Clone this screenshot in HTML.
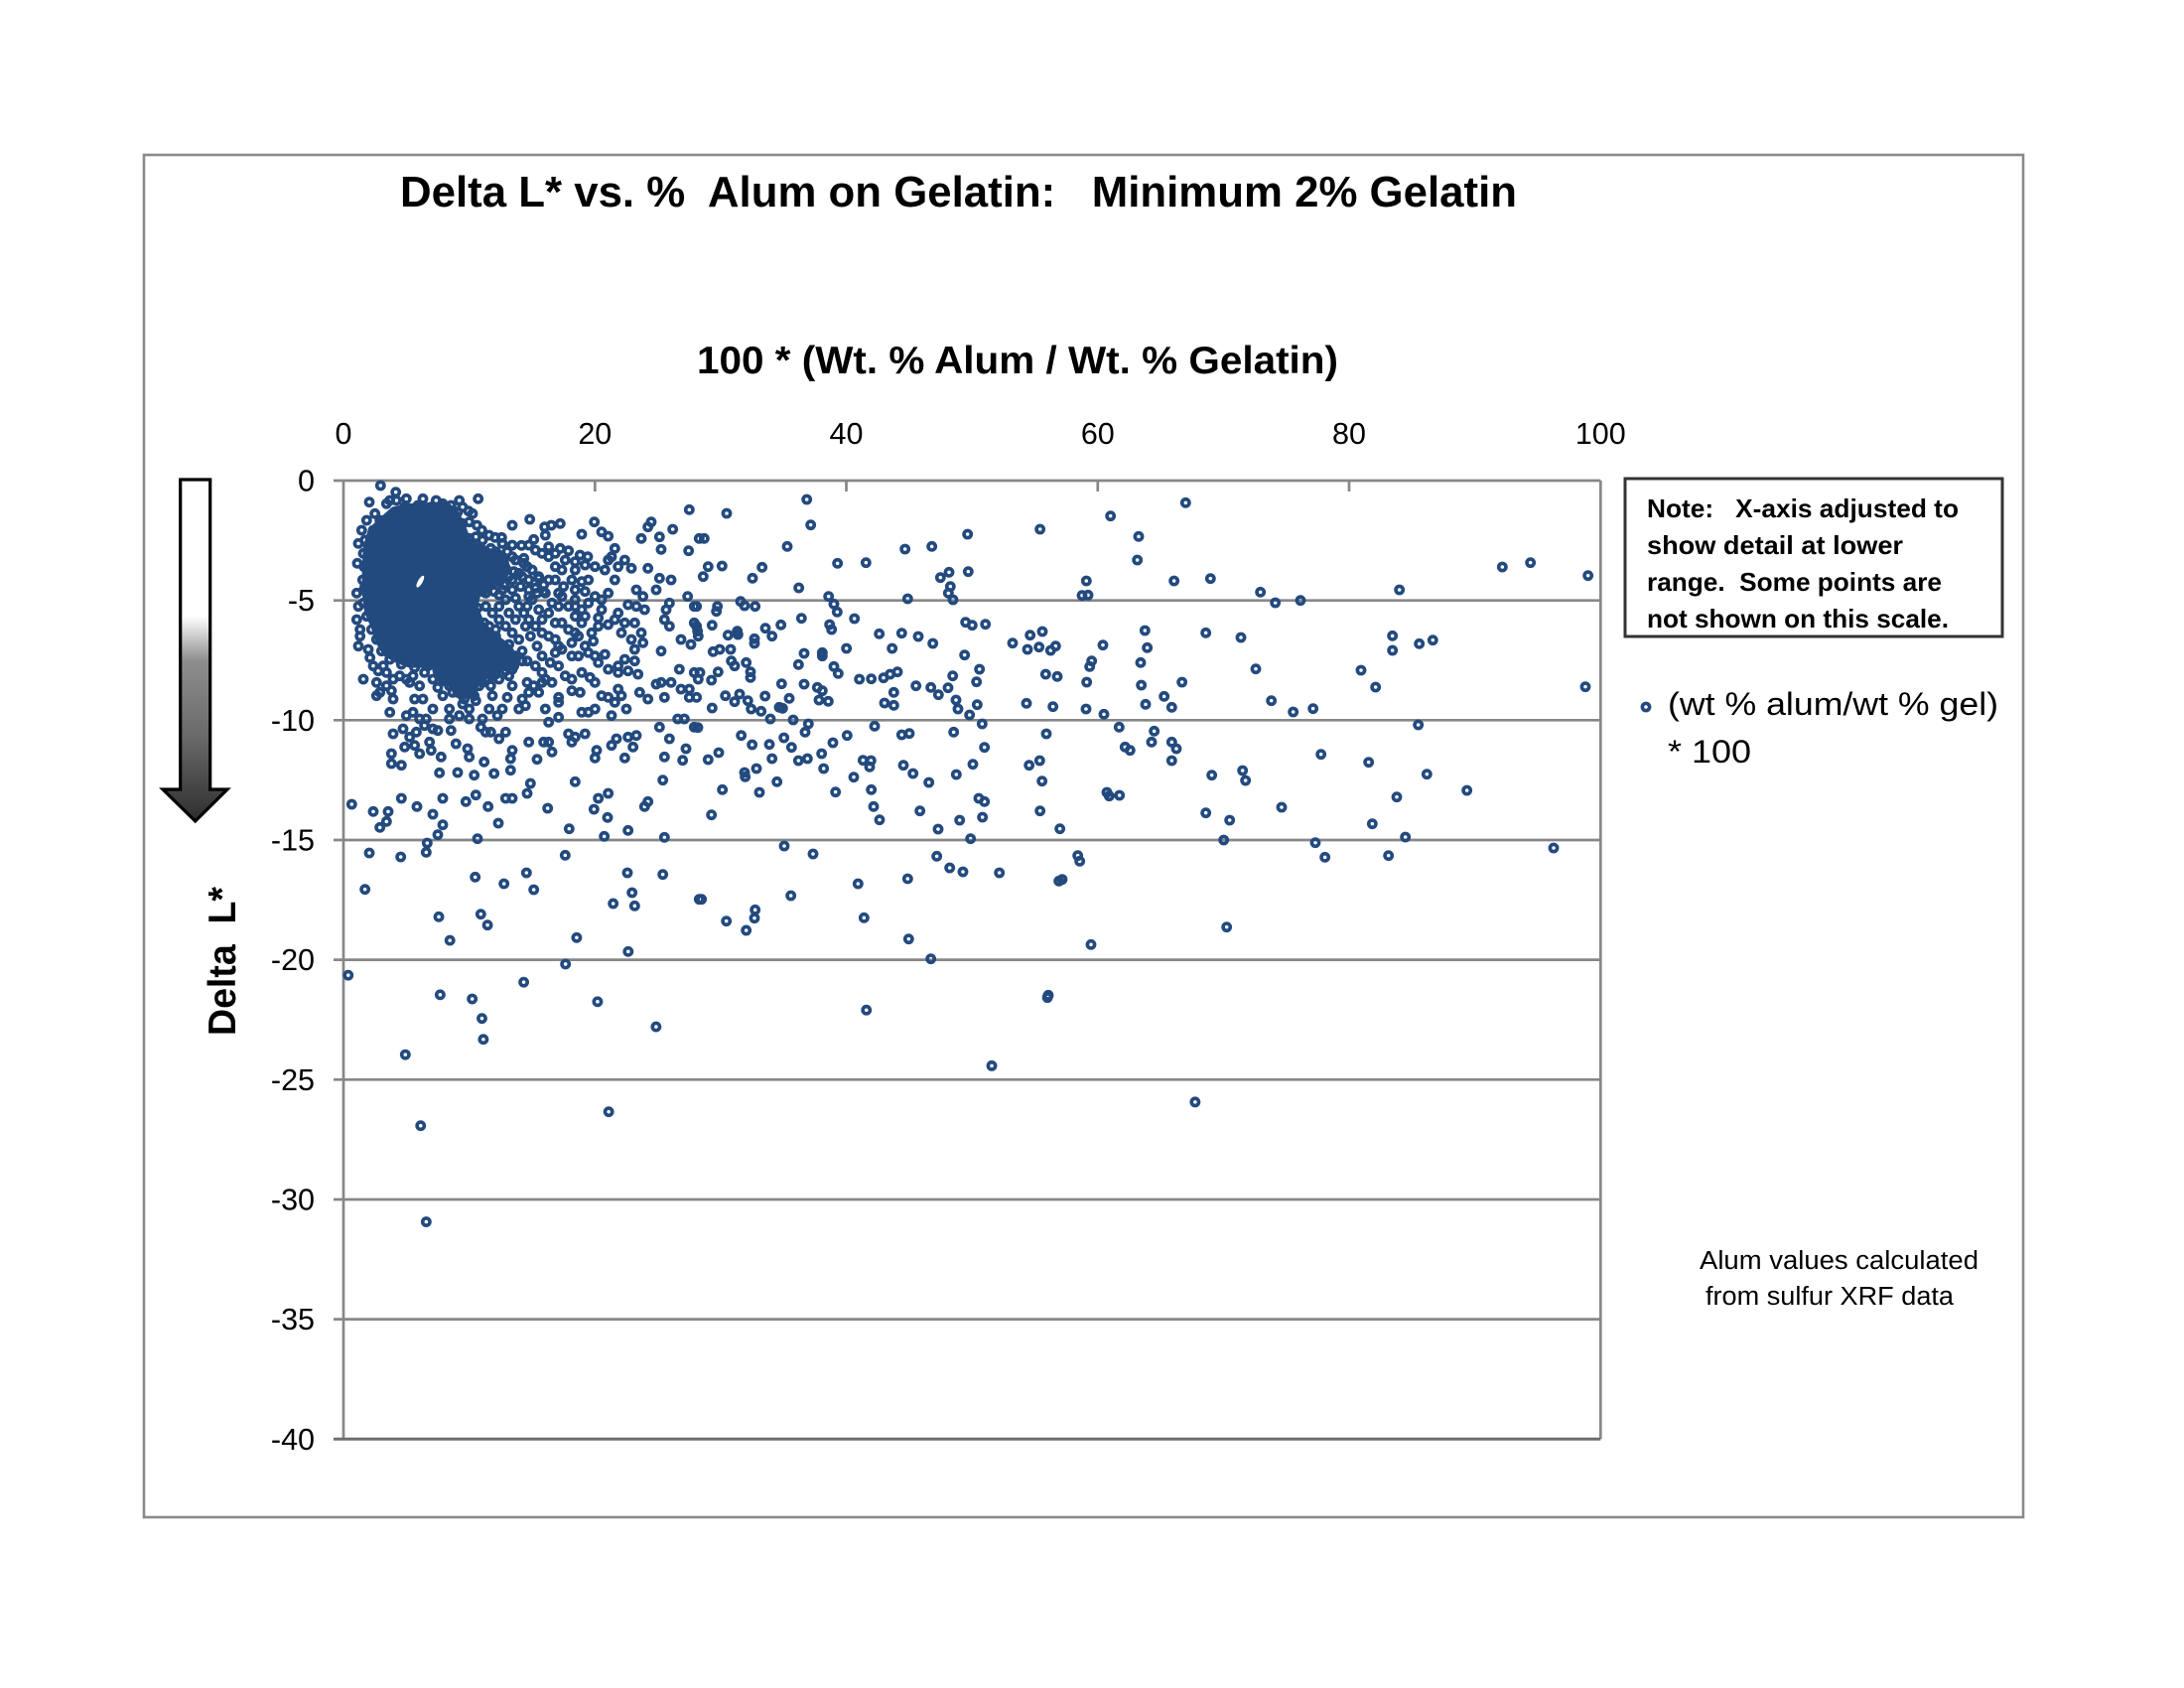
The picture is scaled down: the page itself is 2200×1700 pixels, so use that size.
<!DOCTYPE html>
<html>
<head>
<meta charset="utf-8">
<style>
html,body{margin:0;padding:0;background:#fff;}
svg{display:block;}
.t{font-family:"Liberation Sans",Arial,sans-serif;fill:#000;}
.z circle{fill:none;stroke:#234a7e;stroke-width:11;}
.d circle{fill:none;stroke:#234a7e;stroke-width:2.61;}
</style>
</head>
<body>
<svg width="2200" height="1700" viewBox="0 0 2200 1700" xmlns="http://www.w3.org/2000/svg">
<defs>
<linearGradient id="ag" x1="0" y1="483" x2="0" y2="827" gradientUnits="userSpaceOnUse">
<stop offset="0" stop-color="#ffffff"/>
<stop offset="0.40" stop-color="#ffffff"/>
<stop offset="0.53" stop-color="#8e8e8e"/>
<stop offset="0.75" stop-color="#6a6a6a"/>
<stop offset="1" stop-color="#2e2e2e"/>
</linearGradient>
</defs>
<rect x="0" y="0" width="2200" height="1700" fill="#fff"/>
<rect x="145" y="156" width="1893" height="1372" fill="none" stroke="#8a8a8a" stroke-width="2.6"/>

<text class="t" x="403" y="208" font-size="44" font-weight="bold" textLength="1125" lengthAdjust="spacingAndGlyphs" xml:space="preserve">Delta L* vs. %  Alum on Gelatin:   Minimum 2% Gelatin</text>
<text class="t" x="702" y="376" font-size="39" font-weight="bold" textLength="646" lengthAdjust="spacingAndGlyphs">100 * (Wt. % Alum / Wt. % Gelatin)</text>

<g class="t" font-size="30.5" text-anchor="middle">
<text x="346" y="447">0</text>
<text x="599.3" y="447">20</text>
<text x="852.5" y="447">40</text>
<text x="1105.8" y="447">60</text>
<text x="1359" y="447">80</text>
<text x="1612.3" y="447">100</text>
</g>
<g class="t" font-size="30.5" text-anchor="end">
<text x="317" y="494.5">0</text>
<text x="317" y="615.2">-5</text>
<text x="317" y="735.8">-10</text>
<text x="317" y="856.5">-15</text>
<text x="317" y="977.1">-20</text>
<text x="317" y="1097.8">-25</text>
<text x="317" y="1218.5">-30</text>
<text x="317" y="1339.1">-35</text>
<text x="317" y="1459.8">-40</text>
</g>

<g stroke="#878787" stroke-width="2.7" fill="none">
<line x1="336" y1="484" x2="1612.3" y2="484"/>
<line x1="336" y1="604.7" x2="1612.3" y2="604.7"/>
<line x1="336" y1="725.3" x2="1612.3" y2="725.3"/>
<line x1="336" y1="846" x2="1612.3" y2="846"/>
<line x1="336" y1="966.6" x2="1612.3" y2="966.6"/>
<line x1="336" y1="1087.3" x2="1612.3" y2="1087.3"/>
<line x1="336" y1="1208" x2="1612.3" y2="1208"/>
<line x1="336" y1="1328.6" x2="1612.3" y2="1328.6"/>
<line x1="346" y1="484" x2="346" y2="1449.3"/>
<line x1="1612.3" y1="484" x2="1612.3" y2="1449.3"/>
<line x1="599.3" y1="484" x2="599.3" y2="495"/>
<line x1="852.5" y1="484" x2="852.5" y2="495"/>
<line x1="1105.8" y1="484" x2="1105.8" y2="495"/>
<line x1="1359" y1="484" x2="1359" y2="495"/>
</g>
<line x1="336" y1="1449.3" x2="1612.3" y2="1449.3" stroke="#6e6e6e" stroke-width="3"/>

<path d="M181.7,483 H211.7 V795 H229 L196.7,827 L164,795 H181.7 Z" fill="url(#ag)" stroke="#000" stroke-width="3.2" stroke-linejoin="miter"/>

<text class="t" transform="translate(237 968) rotate(-90)" x="0" y="0" font-size="39" font-weight="bold" text-anchor="middle" textLength="150" lengthAdjust="spacingAndGlyphs" xml:space="preserve">Delta  L*</text>

<rect x="1637" y="482" width="380" height="159" fill="#fff" stroke="#333" stroke-width="3"/>
<g class="t" font-size="26" font-weight="bold">
<text x="1659" y="521" textLength="314" lengthAdjust="spacingAndGlyphs" xml:space="preserve">Note:   X-axis adjusted to</text>
<text x="1659" y="558" textLength="258" lengthAdjust="spacingAndGlyphs">show detail at lower</text>
<text x="1659" y="595" textLength="297" lengthAdjust="spacingAndGlyphs" xml:space="preserve">range.  Some points are</text>
<text x="1659" y="632" textLength="304" lengthAdjust="spacingAndGlyphs">not shown on this scale.</text>
</g>

<circle cx="1658" cy="712" r="3.6" fill="none" stroke="#234a7e" stroke-width="3.67"/>
<text class="t" x="1680" y="720" font-size="32" textLength="333" lengthAdjust="spacingAndGlyphs">(wt % alum/wt % gel)</text>
<text class="t" x="1680" y="768" font-size="32" textLength="84" lengthAdjust="spacingAndGlyphs">* 100</text>

<text class="t" x="1712" y="1278" font-size="25.5" textLength="281" lengthAdjust="spacingAndGlyphs">Alum values calculated</text>
<text class="t" x="1718" y="1314" font-size="25.5" textLength="250" lengthAdjust="spacingAndGlyphs">from sulfur XRF data</text>

<g class="z" transform="translate(346 484) scale(0.33333)">
<path d="M110,120 L150,85 L200,75 L260,72 L310,70 L340,90 L360,130 L380,180 L420,205 L460,215 L490,230 L500,270 L480,310 L440,320 L410,340 L400,380 L420,430 L460,470 L500,500 L520,530 L500,565 L450,580 L410,610 L385,645 L355,660 L330,630 L300,595 L270,565 L240,560 L200,560 L160,545 L125,525 L105,490 L88,440 L70,400 L62,340 L62,270 L65,200 L80,150 Z" fill="#234a7e" stroke="#234a7e" stroke-width="12" stroke-linejoin="round"/>
<ellipse cx="232" cy="305" rx="7" ry="20" transform="rotate(30 232 305)" fill="#fff"/>
<circle cx="112" cy="15" r="10.8"/><circle cx="158" cy="35" r="10.8"/><circle cx="78" cy="65" r="10.8"/><circle cx="407" cy="55" r="10.8"/><circle cx="130" cy="70" r="10.8"/><circle cx="160" cy="60" r="10.8"/><circle cx="185" cy="80" r="10.8"/><circle cx="225" cy="75" r="10.8"/><circle cx="265" cy="80" r="10.8"/><circle cx="300" cy="70" r="10.8"/><circle cx="325" cy="75" r="10.8"/><circle cx="378" cy="92" r="10.8"/><circle cx="380" cy="125" r="10.8"/><circle cx="403" cy="135" r="10.8"/><circle cx="418" cy="150" r="10.8"/><circle cx="458" cy="172" r="10.8"/><circle cx="478" cy="172" r="10.8"/><circle cx="510" cy="135" r="10.8"/><circle cx="563" cy="117" r="10.8"/><circle cx="575" cy="178" r="10.8"/><circle cx="538" cy="196" r="10.8"/><circle cx="608" cy="140" r="10.8"/><circle cx="628" cy="135" r="10.8"/><circle cx="655" cy="130" r="10.8"/><circle cx="610" cy="165" r="10.8"/><circle cx="720" cy="162" r="10.8"/><circle cx="758" cy="125" r="10.8"/><circle cx="780" cy="155" r="10.8"/><circle cx="800" cy="168" r="10.8"/><circle cx="655" cy="205" r="10.8"/><circle cx="680" cy="212" r="10.8"/><circle cx="715" cy="225" r="10.8"/><circle cx="738" cy="230" r="10.8"/><circle cx="820" cy="205" r="10.8"/><circle cx="810" cy="230" r="10.8"/><circle cx="1045" cy="88" r="10.8"/><circle cx="930" cy="125" r="10.8"/><circle cx="920" cy="140" r="10.8"/><circle cx="900" cy="175" r="10.8"/><circle cx="995" cy="147" r="10.8"/><circle cx="955" cy="170" r="10.8"/><circle cx="960" cy="208" r="10.8"/><circle cx="1043" cy="212" r="10.8"/><circle cx="1075" cy="175" r="10.8"/>
<circle cx="600" cy="220" r="10.8"/><circle cx="620" cy="230" r="10.8"/><circle cx="640" cy="260" r="10.8"/><circle cx="660" cy="270" r="10.8"/><circle cx="700" cy="270" r="10.8"/><circle cx="690" cy="300" r="10.8"/><circle cx="665" cy="320" r="10.8"/><circle cx="700" cy="330" r="10.8"/><circle cx="730" cy="335" r="10.8"/><circle cx="760" cy="350" r="10.8"/><circle cx="780" cy="360" r="10.8"/><circle cx="800" cy="340" r="10.8"/><circle cx="820" cy="300" r="10.8"/><circle cx="830" cy="260" r="10.8"/><circle cx="790" cy="270" r="10.8"/><circle cx="800" cy="240" r="10.8"/><circle cx="850" cy="240" r="10.8"/><circle cx="870" cy="265" r="10.8"/><circle cx="920" cy="265" r="10.8"/><circle cx="955" cy="295" r="10.8"/><circle cx="990" cy="300" r="10.8"/><circle cx="945" cy="330" r="10.8"/><circle cx="885" cy="330" r="10.8"/><circle cx="905" cy="350" r="10.8"/><circle cx="1040" cy="350" r="10.8"/><circle cx="1060" cy="380" r="10.8"/><circle cx="580" cy="325" r="10.8"/><circle cx="560" cy="350" r="10.8"/><circle cx="610" cy="340" r="10.8"/><circle cx="620" cy="300" r="10.8"/><circle cx="545" cy="235" r="10.8"/><circle cx="530" cy="280" r="10.8"/><circle cx="510" cy="300" r="10.8"/><circle cx="480" cy="330" r="10.8"/>
<circle cx="555" cy="380" r="10.8"/><circle cx="560" cy="420" r="10.8"/><circle cx="580" cy="440" r="10.8"/><circle cx="600" cy="420" r="10.8"/><circle cx="620" cy="400" r="10.8"/><circle cx="640" cy="430" r="10.8"/><circle cx="660" cy="430" r="10.8"/><circle cx="700" cy="410" r="10.8"/><circle cx="720" cy="430" r="10.8"/><circle cx="700" cy="460" r="10.8"/><circle cx="710" cy="470" r="10.8"/><circle cx="640" cy="480" r="10.8"/><circle cx="650" cy="500" r="10.8"/><circle cx="660" cy="510" r="10.8"/><circle cx="755" cy="485" r="10.8"/><circle cx="770" cy="440" r="10.8"/><circle cx="770" cy="415" r="10.8"/><circle cx="800" cy="435" r="10.8"/><circle cx="830" cy="400" r="10.8"/><circle cx="860" cy="375" r="10.8"/><circle cx="885" cy="380" r="10.8"/><circle cx="910" cy="390" r="10.8"/><circle cx="850" cy="430" r="10.8"/><circle cx="880" cy="430" r="10.8"/><circle cx="900" cy="460" r="10.8"/><circle cx="905" cy="490" r="10.8"/><circle cx="880" cy="510" r="10.8"/><circle cx="850" cy="540" r="10.8"/><circle cx="830" cy="560" r="10.8"/><circle cx="960" cy="515" r="10.8"/><circle cx="975" cy="390" r="10.8"/><circle cx="985" cy="370" r="10.8"/><circle cx="970" cy="420" r="10.8"/><circle cx="985" cy="440" r="10.8"/><circle cx="1060" cy="430" r="10.8"/><circle cx="1070" cy="455" r="10.8"/><circle cx="1020" cy="480" r="10.8"/><circle cx="1050" cy="495" r="10.8"/>
<circle cx="650" cy="560" r="10.8"/><circle cx="690" cy="530" r="10.8"/><circle cx="710" cy="530" r="10.8"/><circle cx="770" cy="550" r="10.8"/><circle cx="790" cy="525" r="10.8"/><circle cx="800" cy="570" r="10.8"/><circle cx="830" cy="580" r="10.8"/><circle cx="860" cy="575" r="10.8"/><circle cx="890" cy="585" r="10.8"/><circle cx="745" cy="595" r="10.8"/><circle cx="690" cy="635" r="10.8"/><circle cx="715" cy="640" r="10.8"/><circle cx="610" cy="600" r="10.8"/><circle cx="590" cy="640" r="10.8"/><circle cx="650" cy="655" r="10.8"/><circle cx="610" cy="690" r="10.8"/><circle cx="650" cy="670" r="10.8"/><circle cx="650" cy="715" r="10.8"/><circle cx="620" cy="730" r="10.8"/><circle cx="720" cy="700" r="10.8"/><circle cx="740" cy="700" r="10.8"/><circle cx="760" cy="690" r="10.8"/><circle cx="780" cy="650" r="10.8"/><circle cx="800" cy="655" r="10.8"/><circle cx="820" cy="670" r="10.8"/><circle cx="830" cy="630" r="10.8"/><circle cx="840" cy="650" r="10.8"/><circle cx="855" cy="690" r="10.8"/><circle cx="810" cy="710" r="10.8"/><circle cx="895" cy="640" r="10.8"/><circle cx="920" cy="660" r="10.8"/><circle cx="945" cy="615" r="10.8"/><circle cx="960" cy="610" r="10.8"/><circle cx="990" cy="610" r="10.8"/><circle cx="970" cy="655" r="10.8"/><circle cx="1015" cy="570" r="10.8"/><circle cx="1060" cy="580" r="10.8"/><circle cx="1020" cy="630" r="10.8"/><circle cx="1045" cy="630" r="10.8"/><circle cx="1045" cy="655" r="10.8"/><circle cx="1010" cy="720" r="10.8"/><circle cx="1030" cy="720" r="10.8"/><circle cx="1060" cy="745" r="10.8"/><circle cx="955" cy="745" r="10.8"/><circle cx="985" cy="780" r="10.8"/><circle cx="1035" cy="810" r="10.8"/><circle cx="1025" cy="845" r="10.8"/><circle cx="970" cy="835" r="10.8"/><circle cx="965" cy="905" r="10.8"/>
<circle cx="50" cy="450" r="10.8"/><circle cx="45" cy="500" r="10.8"/><circle cx="80" cy="535" r="10.8"/><circle cx="60" cy="600" r="10.8"/><circle cx="105" cy="575" r="10.8"/><circle cx="100" cy="610" r="10.8"/><circle cx="110" cy="640" r="10.8"/><circle cx="130" cy="620" r="10.8"/><circle cx="145" cy="635" r="10.8"/><circle cx="150" cy="660" r="10.8"/><circle cx="140" cy="700" r="10.8"/><circle cx="100" cy="650" r="10.8"/><circle cx="190" cy="600" r="10.8"/><circle cx="200" cy="610" r="10.8"/><circle cx="215" cy="660" r="10.8"/><circle cx="245" cy="580" r="10.8"/><circle cx="270" cy="600" r="10.8"/><circle cx="300" cy="590" r="10.8"/><circle cx="320" cy="600" r="10.8"/><circle cx="285" cy="625" r="10.8"/><circle cx="300" cy="650" r="10.8"/><circle cx="320" cy="690" r="10.8"/><circle cx="350" cy="710" r="10.8"/><circle cx="380" cy="690" r="10.8"/><circle cx="400" cy="665" r="10.8"/><circle cx="440" cy="580" r="10.8"/><circle cx="445" cy="620" r="10.8"/><circle cx="450" cy="650" r="10.8"/><circle cx="465" cy="710" r="10.8"/><circle cx="500" cy="590" r="10.8"/><circle cx="510" cy="620" r="10.8"/><circle cx="495" cy="655" r="10.8"/><circle cx="540" cy="660" r="10.8"/><circle cx="550" cy="680" r="10.8"/><circle cx="555" cy="610" r="10.8"/><circle cx="575" cy="620" r="10.8"/><circle cx="600" cy="610" r="10.8"/><circle cx="490" cy="560" r="10.8"/><circle cx="520" cy="545" r="10.8"/>
<circle cx="190" cy="710" r="10.8"/><circle cx="210" cy="700" r="10.8"/><circle cx="230" cy="720" r="10.8"/><circle cx="250" cy="720" r="10.8"/><circle cx="150" cy="765" r="10.8"/><circle cx="180" cy="750" r="10.8"/><circle cx="200" cy="775" r="10.8"/><circle cx="220" cy="760" r="10.8"/><circle cx="245" cy="740" r="10.8"/><circle cx="270" cy="750" r="10.8"/><circle cx="285" cy="755" r="10.8"/><circle cx="325" cy="755" r="10.8"/><circle cx="340" cy="795" r="10.8"/><circle cx="375" cy="810" r="10.8"/><circle cx="380" cy="835" r="10.8"/><circle cx="415" cy="745" r="10.8"/><circle cx="430" cy="760" r="10.8"/><circle cx="445" cy="760" r="10.8"/><circle cx="470" cy="780" r="10.8"/><circle cx="490" cy="760" r="10.8"/><circle cx="510" cy="815" r="10.8"/><circle cx="505" cy="840" r="10.8"/><circle cx="505" cy="875" r="10.8"/><circle cx="560" cy="790" r="10.8"/><circle cx="605" cy="790" r="10.8"/><circle cx="620" cy="790" r="10.8"/><circle cx="630" cy="820" r="10.8"/><circle cx="585" cy="842" r="10.8"/><circle cx="185" cy="805" r="10.8"/><circle cx="215" cy="800" r="10.8"/><circle cx="230" cy="825" r="10.8"/><circle cx="260" cy="790" r="10.8"/><circle cx="265" cy="815" r="10.8"/><circle cx="145" cy="825" r="10.8"/><circle cx="145" cy="855" r="10.8"/><circle cx="175" cy="860" r="10.8"/><circle cx="295" cy="835" r="10.8"/><circle cx="425" cy="850" r="10.8"/><circle cx="290" cy="883" r="10.8"/><circle cx="345" cy="882" r="10.8"/><circle cx="395" cy="890" r="10.8"/><circle cx="455" cy="885" r="10.8"/><circle cx="700" cy="775" r="10.8"/><circle cx="680" cy="765" r="10.8"/><circle cx="690" cy="790" r="10.8"/><circle cx="730" cy="765" r="10.8"/><circle cx="700" cy="910" r="10.8"/><circle cx="765" cy="815" r="10.8"/><circle cx="760" cy="838" r="10.8"/><circle cx="850" cy="838" r="10.8"/><circle cx="825" cy="780" r="10.8"/><circle cx="860" cy="775" r="10.8"/><circle cx="885" cy="770" r="10.8"/><circle cx="875" cy="805" r="10.8"/><circle cx="810" cy="800" r="10.8"/>
<circle cx="565" cy="915" r="10.8"/><circle cx="555" cy="945" r="10.8"/><circle cx="490" cy="960" r="10.8"/><circle cx="510" cy="960" r="10.8"/><circle cx="400" cy="950" r="10.8"/><circle cx="370" cy="970" r="10.8"/><circle cx="300" cy="960" r="10.8"/><circle cx="175" cy="960" r="10.8"/><circle cx="222" cy="985" r="10.8"/><circle cx="270" cy="1008" r="10.8"/><circle cx="300" cy="1040" r="10.8"/><circle cx="285" cy="1070" r="10.8"/><circle cx="253" cy="1095" r="10.8"/><circle cx="250" cy="1123" r="10.8"/><circle cx="135" cy="1000" r="10.8"/><circle cx="130" cy="1030" r="10.8"/><circle cx="110" cy="1048" r="10.8"/><circle cx="90" cy="1000" r="10.8"/><circle cx="25" cy="978" r="10.8"/><circle cx="437" cy="985" r="10.8"/><circle cx="468" cy="1035" r="10.8"/><circle cx="617" cy="990" r="10.8"/><circle cx="682" cy="1052" r="10.8"/><circle cx="800" cy="945" r="10.8"/><circle cx="770" cy="960" r="10.8"/><circle cx="757" cy="993" r="10.8"/><circle cx="798" cy="1018" r="10.8"/><circle cx="788" cy="1075" r="10.8"/><circle cx="860" cy="1057" r="10.8"/><circle cx="910" cy="985" r="10.8"/><circle cx="920" cy="970" r="10.8"/><circle cx="970" cy="1078" r="10.8"/><circle cx="405" cy="1082" r="10.8"/><circle cx="78" cy="1125" r="10.8"/><circle cx="173" cy="1137" r="10.8"/><circle cx="65" cy="1235" r="10.8"/><circle cx="398" cy="1198" r="10.8"/><circle cx="485" cy="1218" r="10.8"/><circle cx="553" cy="1185" r="10.8"/><circle cx="575" cy="1236" r="10.8"/><circle cx="670" cy="1132" r="10.8"/><circle cx="858" cy="1185" r="10.8"/><circle cx="965" cy="1190" r="10.8"/><circle cx="872" cy="1245" r="10.8"/><circle cx="880" cy="1285" r="10.8"/><circle cx="815" cy="1278" r="10.8"/><circle cx="1075" cy="1265" r="10.8"/><circle cx="288" cy="1318" r="10.8"/><circle cx="415" cy="1310" r="10.8"/>
<circle cx="110" cy="120" r="10.8"/><circle cx="90" cy="150" r="10.8"/><circle cx="65" cy="180" r="10.8"/><circle cx="60" cy="220" r="10.8"/><circle cx="62" cy="260" r="10.8"/><circle cx="58" cy="300" r="10.8"/><circle cx="62" cy="330" r="10.8"/><circle cx="60" cy="370" r="10.8"/><circle cx="70" cy="410" r="10.8"/><circle cx="85" cy="450" r="10.8"/><circle cx="100" cy="480" r="10.8"/><circle cx="115" cy="515" r="10.8"/><circle cx="140" cy="540" r="10.8"/><circle cx="175" cy="555" r="10.8"/><circle cx="215" cy="565" r="10.8"/><circle cx="255" cy="560" r="10.8"/><circle cx="285" cy="575" r="10.8"/><circle cx="305" cy="605" r="10.8"/><circle cx="330" cy="640" r="10.8"/><circle cx="360" cy="675" r="10.8"/><circle cx="395" cy="650" r="10.8"/><circle cx="420" cy="610" r="10.8"/><circle cx="460" cy="585" r="10.8"/><circle cx="510" cy="570" r="10.8"/><circle cx="555" cy="545" r="10.8"/><circle cx="540" cy="515" r="10.8"/><circle cx="500" cy="495" r="10.8"/><circle cx="460" cy="470" r="10.8"/><circle cx="425" cy="430" r="10.8"/><circle cx="405" cy="385" r="10.8"/><circle cx="420" cy="335" r="10.8"/><circle cx="470" cy="345" r="10.8"/><circle cx="520" cy="355" r="10.8"/><circle cx="570" cy="360" r="10.8"/><circle cx="605" cy="335" r="10.8"/><circle cx="590" cy="295" r="10.8"/><circle cx="555" cy="260" r="10.8"/><circle cx="510" cy="230" r="10.8"/><circle cx="460" cy="215" r="10.8"/><circle cx="415" cy="205" r="10.8"/><circle cx="380" cy="175" r="10.8"/><circle cx="360" cy="130" r="10.8"/><circle cx="345" cy="95" r="10.8"/><circle cx="75" cy="255" r="10.8"/><circle cx="55" cy="150" r="10.8"/><circle cx="65" cy="320" r="10.8"/>
<circle cx="395" cy="200" r="10.8"/><circle cx="420" cy="215" r="10.8"/><circle cx="445" cy="205" r="10.8"/><circle cx="470" cy="225" r="10.8"/><circle cx="495" cy="215" r="10.8"/><circle cx="520" cy="240" r="10.8"/><circle cx="545" cy="250" r="10.8"/><circle cx="570" cy="270" r="10.8"/><circle cx="590" cy="290" r="10.8"/><circle cx="605" cy="315" r="10.8"/><circle cx="585" cy="340" r="10.8"/><circle cx="560" cy="330" r="10.8"/><circle cx="535" cy="320" r="10.8"/><circle cx="510" cy="330" r="10.8"/><circle cx="485" cy="315" r="10.8"/><circle cx="460" cy="305" r="10.8"/><circle cx="440" cy="290" r="10.8"/><circle cx="415" cy="300" r="10.8"/><circle cx="395" cy="280" r="10.8"/><circle cx="390" cy="250" r="10.8"/><circle cx="415" cy="245" r="10.8"/><circle cx="440" cy="255" r="10.8"/><circle cx="465" cy="260" r="10.8"/><circle cx="490" cy="265" r="10.8"/><circle cx="515" cy="275" r="10.8"/><circle cx="540" cy="290" r="10.8"/><circle cx="560" cy="300" r="10.8"/><circle cx="500" cy="290" r="10.8"/><circle cx="470" cy="280" r="10.8"/><circle cx="425" cy="270" r="10.8"/><circle cx="400" cy="320" r="10.8"/><circle cx="430" cy="340" r="10.8"/><circle cx="455" cy="335" r="10.8"/><circle cx="390" cy="350" r="10.8"/>
<circle cx="380" cy="450" r="10.8"/><circle cx="400" cy="470" r="10.8"/><circle cx="420" cy="490" r="10.8"/><circle cx="445" cy="500" r="10.8"/><circle cx="470" cy="510" r="10.8"/><circle cx="495" cy="520" r="10.8"/><circle cx="520" cy="530" r="10.8"/><circle cx="540" cy="545" r="10.8"/><circle cx="515" cy="560" r="10.8"/><circle cx="490" cy="575" r="10.8"/><circle cx="465" cy="560" r="10.8"/><circle cx="440" cy="545" r="10.8"/><circle cx="415" cy="530" r="10.8"/><circle cx="395" cy="510" r="10.8"/><circle cx="375" cy="495" r="10.8"/><circle cx="350" cy="520" r="10.8"/><circle cx="330" cy="545" r="10.8"/><circle cx="310" cy="570" r="10.8"/><circle cx="300" cy="600" r="10.8"/><circle cx="320" cy="620" r="10.8"/><circle cx="345" cy="640" r="10.8"/><circle cx="365" cy="660" r="10.8"/><circle cx="390" cy="640" r="10.8"/><circle cx="410" cy="620" r="10.8"/><circle cx="430" cy="600" r="10.8"/><circle cx="450" cy="590" r="10.8"/><circle cx="470" cy="600" r="10.8"/><circle cx="395" cy="600" r="10.8"/><circle cx="370" cy="610" r="10.8"/><circle cx="350" cy="595" r="10.8"/><circle cx="340" cy="575" r="10.8"/><circle cx="365" cy="565" r="10.8"/><circle cx="385" cy="560" r="10.8"/><circle cx="410" cy="570" r="10.8"/><circle cx="435" cy="570" r="10.8"/><circle cx="355" cy="545" r="10.8"/><circle cx="375" cy="530" r="10.8"/><circle cx="400" cy="540" r="10.8"/><circle cx="420" cy="550" r="10.8"/>
<circle cx="430" cy="380" r="10.8"/><circle cx="450" cy="400" r="10.8"/><circle cx="470" cy="420" r="10.8"/><circle cx="490" cy="440" r="10.8"/><circle cx="440" cy="440" r="10.8"/><circle cx="460" cy="450" r="10.8"/><circle cx="510" cy="460" r="10.8"/><circle cx="530" cy="480" r="10.8"/><circle cx="500" cy="400" r="10.8"/><circle cx="520" cy="420" r="10.8"/><circle cx="550" cy="440" r="10.8"/><circle cx="470" cy="380" r="10.8"/><circle cx="490" cy="360" r="10.8"/><circle cx="530" cy="380" r="10.8"/><circle cx="545" cy="400" r="10.8"/><circle cx="565" cy="470" r="10.8"/><circle cx="585" cy="500" r="10.8"/><circle cx="600" cy="530" r="10.8"/><circle cx="580" cy="560" r="10.8"/><circle cx="600" cy="580" r="10.8"/><circle cx="625" cy="550" r="10.8"/><circle cx="640" cy="520" r="10.8"/><circle cx="620" cy="470" r="10.8"/><circle cx="600" cy="460" r="10.8"/><circle cx="590" cy="390" r="10.8"/><circle cx="630" cy="370" r="10.8"/><circle cx="650" cy="380" r="10.8"/><circle cx="660" cy="350" r="10.8"/><circle cx="680" cy="380" r="10.8"/><circle cx="700" cy="380" r="10.8"/><circle cx="720" cy="390" r="10.8"/><circle cx="740" cy="370" r="10.8"/><circle cx="680" cy="450" r="10.8"/><circle cx="690" cy="490" r="10.8"/><circle cx="730" cy="500" r="10.8"/><circle cx="740" cy="520" r="10.8"/><circle cx="760" cy="530" r="10.8"/><circle cx="750" cy="460" r="10.8"/><circle cx="730" cy="410" r="10.8"/><circle cx="780" cy="390" r="10.8"/><circle cx="820" cy="420" r="10.8"/><circle cx="840" cy="460" r="10.8"/><circle cx="870" cy="480" r="10.8"/><circle cx="880" cy="545" r="10.8"/><circle cx="760" cy="610" r="10.8"/><circle cx="720" cy="580" r="10.8"/><circle cx="690" cy="600" r="10.8"/><circle cx="670" cy="590" r="10.8"/><circle cx="630" cy="610" r="10.8"/><circle cx="560" cy="640" r="10.8"/><circle cx="530" cy="690" r="10.8"/><circle cx="480" cy="690" r="10.8"/><circle cx="440" cy="690" r="10.8"/><circle cx="420" cy="720" r="10.8"/><circle cx="380" cy="720" r="10.8"/><circle cx="320" cy="720" r="10.8"/><circle cx="270" cy="690" r="10.8"/><circle cx="240" cy="660" r="10.8"/><circle cx="230" cy="620" r="10.8"/><circle cx="210" cy="590" r="10.8"/><circle cx="170" cy="590" r="10.8"/><circle cx="150" cy="600" r="10.8"/><circle cx="130" cy="580" r="10.8"/><circle cx="120" cy="560" r="10.8"/><circle cx="90" cy="560" r="10.8"/><circle cx="75" cy="510" r="10.8"/><circle cx="50" cy="470" r="10.8"/><circle cx="40" cy="420" r="10.8"/><circle cx="45" cy="380" r="10.8"/><circle cx="40" cy="340" r="10.8"/><circle cx="42" cy="250" r="10.8"/><circle cx="45" cy="190" r="10.8"/><circle cx="70" cy="120" r="10.8"/><circle cx="95" cy="100" r="10.8"/><circle cx="140" cy="60" r="10.8"/><circle cx="190" cy="55" r="10.8"/><circle cx="240" cy="55" r="10.8"/><circle cx="280" cy="60" r="10.8"/><circle cx="350" cy="60" r="10.8"/><circle cx="360" cy="80" r="10.8"/><circle cx="390" cy="100" r="10.8"/><circle cx="400" cy="170" r="10.8"/><circle cx="420" cy="180" r="10.8"/><circle cx="440" cy="165" r="10.8"/><circle cx="480" cy="190" r="10.8"/><circle cx="510" cy="195" r="10.8"/><circle cx="560" cy="195" r="10.8"/><circle cx="580" cy="210" r="10.8"/><circle cx="620" cy="200" r="10.8"/><circle cx="640" cy="220" r="10.8"/><circle cx="670" cy="240" r="10.8"/><circle cx="700" cy="245" r="10.8"/><circle cx="730" cy="255" r="10.8"/><circle cx="760" cy="260" r="10.8"/><circle cx="740" cy="300" r="10.8"/><circle cx="720" cy="305" r="10.8"/><circle cx="640" cy="300" r="10.8"/><circle cx="650" cy="340" r="10.8"/><circle cx="700" cy="360" r="10.8"/>
</g>

<g class="z" transform="translate(700 484) scale(0.33333)">
<circle cx="338" cy="57" r="10.8"/><circle cx="350" cy="134" r="10.8"/><circle cx="96" cy="99" r="10.8"/><circle cx="28" cy="175" r="10.8"/><circle cx="279" cy="199" r="10.8"/><circle cx="40" cy="260" r="10.8"/><circle cx="82" cy="258" r="10.8"/><circle cx="25" cy="290" r="10.8"/><circle cx="174" cy="295" r="10.8"/><circle cx="203" cy="262" r="10.8"/><circle cx="314" cy="324" r="10.8"/><circle cx="431" cy="250" r="10.8"/><circle cx="517" cy="248" r="10.8"/><circle cx="635" cy="207" r="10.8"/><circle cx="716" cy="199" r="10.8"/><circle cx="824" cy="162" r="10.8"/><circle cx="826" cy="275" r="10.8"/><circle cx="1043" cy="147" r="10.8"/><circle cx="1256" cy="107" r="10.8"/><circle cx="1341" cy="169" r="10.8"/><circle cx="1337" cy="240" r="10.8"/><circle cx="1483" cy="67" r="10.8"/><circle cx="1448" cy="303" r="10.8"/><circle cx="1183" cy="303" r="10.8"/><circle cx="1170" cy="347" r="10.8"/><circle cx="1188" cy="346" r="10.8"/><circle cx="768" cy="277" r="10.8"/><circle cx="742" cy="293" r="10.8"/><circle cx="772" cy="320" r="10.8"/><circle cx="766" cy="340" r="10.8"/><circle cx="780" cy="360" r="10.8"/><circle cx="643" cy="357" r="10.8"/>
<circle cx="5" cy="380" r="10.8"/><circle cx="68" cy="380" r="10.8"/><circle cx="65" cy="395" r="10.8"/><circle cx="138" cy="365" r="10.8"/><circle cx="150" cy="378" r="10.8"/><circle cx="182" cy="380" r="10.8"/><circle cx="404" cy="350" r="10.8"/><circle cx="420" cy="373" r="10.8"/><circle cx="430" cy="397" r="10.8"/><circle cx="482" cy="417" r="10.8"/><circle cx="322" cy="416" r="10.8"/><circle cx="260" cy="436" r="10.8"/><circle cx="213" cy="446" r="10.8"/><circle cx="233" cy="470" r="10.8"/><circle cx="180" cy="478" r="10.8"/><circle cx="180" cy="492" r="10.8"/><circle cx="128" cy="455" r="10.8"/><circle cx="130" cy="465" r="10.8"/><circle cx="100" cy="467" r="10.8"/><circle cx="52" cy="437" r="10.8"/><circle cx="5" cy="440" r="10.8"/><circle cx="10" cy="470" r="10.8"/><circle cx="55" cy="517" r="10.8"/><circle cx="75" cy="510" r="10.8"/><circle cx="108" cy="510" r="10.8"/><circle cx="110" cy="545" r="10.8"/><circle cx="120" cy="560" r="10.8"/><circle cx="155" cy="550" r="10.8"/><circle cx="168" cy="578" r="10.8"/><circle cx="168" cy="595" r="10.8"/><circle cx="70" cy="578" r="10.8"/><circle cx="15" cy="580" r="10.8"/><circle cx="10" cy="600" r="10.8"/><circle cx="50" cy="603" r="10.8"/><circle cx="330" cy="522" r="10.8"/><circle cx="313" cy="556" r="10.8"/><circle cx="385" cy="520" r="10.8"/><circle cx="385" cy="530" r="10.8"/><circle cx="420" cy="562" r="10.8"/><circle cx="433" cy="583" r="10.8"/><circle cx="458" cy="507" r="10.8"/><circle cx="407" cy="435" r="10.8"/><circle cx="413" cy="450" r="10.8"/>
<circle cx="557" cy="463" r="10.8"/><circle cx="625" cy="461" r="10.8"/><circle cx="675" cy="471" r="10.8"/><circle cx="719" cy="492" r="10.8"/><circle cx="596" cy="507" r="10.8"/><circle cx="497" cy="600" r="10.8"/><circle cx="533" cy="599" r="10.8"/><circle cx="570" cy="596" r="10.8"/><circle cx="590" cy="585" r="10.8"/><circle cx="612" cy="578" r="10.8"/><circle cx="668" cy="620" r="10.8"/><circle cx="713" cy="625" r="10.8"/><circle cx="736" cy="647" r="10.8"/><circle cx="765" cy="626" r="10.8"/><circle cx="779" cy="590" r="10.8"/><circle cx="815" cy="527" r="10.8"/><circle cx="860" cy="570" r="10.8"/><circle cx="851" cy="608" r="10.8"/><circle cx="818" cy="428" r="10.8"/><circle cx="838" cy="437" r="10.8"/><circle cx="878" cy="434" r="10.8"/><circle cx="960" cy="491" r="10.8"/><circle cx="1013" cy="467" r="10.8"/><circle cx="1050" cy="456" r="10.8"/><circle cx="1005" cy="510" r="10.8"/><circle cx="1040" cy="503" r="10.8"/><circle cx="1075" cy="513" r="10.8"/><circle cx="1090" cy="500" r="10.8"/><circle cx="1060" cy="585" r="10.8"/><circle cx="1095" cy="592" r="10.8"/><circle cx="1233" cy="497" r="10.8"/><circle cx="1199" cy="545" r="10.8"/><circle cx="1193" cy="562" r="10.8"/><circle cx="1184" cy="609" r="10.8"/><circle cx="1360" cy="453" r="10.8"/><circle cx="1367" cy="505" r="10.8"/><circle cx="1347" cy="550" r="10.8"/><circle cx="1349" cy="618" r="10.8"/><circle cx="1362" cy="676" r="10.8"/><circle cx="1418" cy="652" r="10.8"/><circle cx="1441" cy="685" r="10.8"/><circle cx="1472" cy="609" r="10.8"/><circle cx="1002" cy="673" r="10.8"/><circle cx="1082" cy="683" r="10.8"/><circle cx="1182" cy="690" r="10.8"/><circle cx="1236" cy="706" r="10.8"/>
<circle cx="601" cy="640" r="10.8"/><circle cx="573" cy="672" r="10.8"/><circle cx="601" cy="679" r="10.8"/><circle cx="789" cy="663" r="10.8"/><circle cx="795" cy="690" r="10.8"/><circle cx="853" cy="677" r="10.8"/><circle cx="830" cy="708" r="10.8"/><circle cx="868" cy="735" r="10.8"/><circle cx="262" cy="614" r="10.8"/><circle cx="330" cy="615" r="10.8"/><circle cx="370" cy="625" r="10.8"/><circle cx="385" cy="635" r="10.8"/><circle cx="375" cy="663" r="10.8"/><circle cx="403" cy="667" r="10.8"/><circle cx="285" cy="658" r="10.8"/><circle cx="255" cy="685" r="10.8"/><circle cx="265" cy="688" r="10.8"/><circle cx="212" cy="651" r="10.8"/><circle cx="92" cy="650" r="10.8"/><circle cx="135" cy="645" r="10.8"/><circle cx="120" cy="668" r="10.8"/><circle cx="160" cy="665" r="10.8"/><circle cx="170" cy="690" r="10.8"/><circle cx="200" cy="697" r="10.8"/><circle cx="228" cy="720" r="10.8"/><circle cx="297" cy="723" r="10.8"/><circle cx="343" cy="735" r="10.8"/><circle cx="333" cy="760" r="10.8"/><circle cx="52" cy="687" r="10.8"/><circle cx="5" cy="655" r="10.8"/>
<circle cx="9" cy="746" r="10.8"/><circle cx="140" cy="770" r="10.8"/><circle cx="173" cy="798" r="10.8"/><circle cx="225" cy="797" r="10.8"/><circle cx="269" cy="777" r="10.8"/><circle cx="292" cy="806" r="10.8"/><circle cx="233" cy="840" r="10.8"/><circle cx="40" cy="843" r="10.8"/><circle cx="72" cy="822" r="10.8"/><circle cx="313" cy="846" r="10.8"/><circle cx="340" cy="840" r="10.8"/><circle cx="383" cy="825" r="10.8"/><circle cx="417" cy="792" r="10.8"/><circle cx="460" cy="770" r="10.8"/><circle cx="543" cy="742" r="10.8"/><circle cx="389" cy="870" r="10.8"/><circle cx="186" cy="870" r="10.8"/><circle cx="150" cy="882" r="10.8"/><circle cx="152" cy="895" r="10.8"/><circle cx="248" cy="910" r="10.8"/><circle cx="195" cy="942" r="10.8"/><circle cx="83" cy="934" r="10.8"/><circle cx="50" cy="1010" r="10.8"/><circle cx="425" cy="941" r="10.8"/><circle cx="480" cy="896" r="10.8"/><circle cx="508" cy="845" r="10.8"/><circle cx="532" cy="846" r="10.8"/><circle cx="528" cy="865" r="10.8"/><circle cx="533" cy="934" r="10.8"/><circle cx="540" cy="985" r="10.8"/><circle cx="558" cy="1025" r="10.8"/><circle cx="625" cy="768" r="10.8"/><circle cx="648" cy="764" r="10.8"/><circle cx="630" cy="860" r="10.8"/><circle cx="659" cy="885" r="10.8"/><circle cx="707" cy="912" r="10.8"/><circle cx="680" cy="998" r="10.8"/><circle cx="735" cy="1053" r="10.8"/><circle cx="800" cy="1026" r="10.8"/><circle cx="833" cy="1082" r="10.8"/><circle cx="782" cy="760" r="10.8"/><circle cx="790" cy="888" r="10.8"/><circle cx="875" cy="806" r="10.8"/><circle cx="840" cy="857" r="10.8"/><circle cx="858" cy="960" r="10.8"/><circle cx="875" cy="970" r="10.8"/><circle cx="869" cy="1017" r="10.8"/><circle cx="1062" cy="765" r="10.8"/><circle cx="1282" cy="745" r="10.8"/><circle cx="1388" cy="757" r="10.8"/><circle cx="1380" cy="790" r="10.8"/><circle cx="1300" cy="805" r="10.8"/><circle cx="1315" cy="815" r="10.8"/><circle cx="1441" cy="790" r="10.8"/><circle cx="1455" cy="810" r="10.8"/><circle cx="1441" cy="846" r="10.8"/><circle cx="1010" cy="860" r="10.8"/><circle cx="1042" cy="846" r="10.8"/><circle cx="1049" cy="908" r="10.8"/><circle cx="1043" cy="998" r="10.8"/><circle cx="1103" cy="1052" r="10.8"/><circle cx="1245" cy="942" r="10.8"/><circle cx="1252" cy="953" r="10.8"/><circle cx="1283" cy="951" r="10.8"/>
<circle cx="270" cy="1104" r="10.8"/><circle cx="357" cy="1128" r="10.8"/><circle cx="20" cy="1265" r="10.8"/><circle cx="95" cy="1331" r="10.8"/><circle cx="182" cy="1297" r="10.8"/><circle cx="180" cy="1322" r="10.8"/><circle cx="155" cy="1359" r="10.8"/><circle cx="290" cy="1254" r="10.8"/><circle cx="493" cy="1218" r="10.8"/><circle cx="511" cy="1321" r="10.8"/><circle cx="643" cy="1203" r="10.8"/><circle cx="646" cy="1385" r="10.8"/><circle cx="713" cy="1445" r="10.8"/><circle cx="731" cy="1135" r="10.8"/><circle cx="770" cy="1170" r="10.8"/><circle cx="810" cy="1182" r="10.8"/><circle cx="920" cy="1185" r="10.8"/><circle cx="1157" cy="1133" r="10.8"/><circle cx="1163" cy="1150" r="10.8"/><circle cx="1100" cy="1210" r="10.8"/><circle cx="1110" cy="1205" r="10.8"/><circle cx="1197" cy="1402" r="10.8"/><circle cx="1068" cy="1555" r="10.8"/>
</g>

<g class="z" transform="translate(1200 484) scale(0.33333)">
<circle cx="58" cy="296" r="10.8"/><circle cx="209" cy="337" r="10.8"/><circle cx="254" cy="369" r="10.8"/><circle cx="330" cy="362" r="10.8"/><circle cx="629" cy="330" r="10.8"/><circle cx="940" cy="261" r="10.8"/><circle cx="1025" cy="248" r="10.8"/><circle cx="1199" cy="287" r="10.8"/><circle cx="44" cy="460" r="10.8"/><circle cx="150" cy="474" r="10.8"/><circle cx="195" cy="569" r="10.8"/><circle cx="242" cy="665" r="10.8"/><circle cx="308" cy="699" r="10.8"/><circle cx="368" cy="689" r="10.8"/><circle cx="513" cy="573" r="10.8"/><circle cx="557" cy="624" r="10.8"/><circle cx="608" cy="469" r="10.8"/><circle cx="608" cy="513" r="10.8"/><circle cx="689" cy="493" r="10.8"/><circle cx="730" cy="482" r="10.8"/><circle cx="1191" cy="623" r="10.8"/><circle cx="686" cy="738" r="10.8"/><circle cx="392" cy="827" r="10.8"/><circle cx="536" cy="851" r="10.8"/><circle cx="62" cy="890" r="10.8"/><circle cx="155" cy="876" r="10.8"/><circle cx="164" cy="906" r="10.8"/><circle cx="712" cy="887" r="10.8"/><circle cx="833" cy="936" r="10.8"/><circle cx="621" cy="956" r="10.8"/><circle cx="44" cy="1004" r="10.8"/><circle cx="116" cy="1026" r="10.8"/><circle cx="273" cy="987" r="10.8"/><circle cx="98" cy="1086" r="10.8"/><circle cx="547" cy="1037" r="10.8"/><circle cx="647" cy="1077" r="10.8"/><circle cx="375" cy="1094" r="10.8"/><circle cx="404" cy="1138" r="10.8"/><circle cx="596" cy="1133" r="10.8"/><circle cx="1095" cy="1110" r="10.8"/><circle cx="107" cy="1349" r="10.8"/>
</g>

<g class="d" transform="scale(1.4031)">
<circle cx="323" cy="675" r="2.57"/><circle cx="350" cy="664" r="2.57"/><circle cx="414" cy="673" r="2.57"/><circle cx="406" cy="692" r="2.57"/><circle cx="451" cy="683" r="2.57"/><circle cx="250" cy="700" r="2.57"/><circle cx="291" cy="757" r="2.57"/><circle cx="302" cy="808" r="2.57"/><circle cx="306" cy="877" r="2.57"/><circle cx="316" cy="714" r="2.57"/><circle cx="339" cy="717" r="2.57"/><circle cx="346" cy="731" r="2.57"/><circle cx="347" cy="746" r="2.57"/><circle cx="376" cy="705" r="2.57"/><circle cx="429" cy="719" r="2.57"/><circle cx="437" cy="798" r="2.57"/><circle cx="471" cy="737" r="2.57"/>
<circle cx="622" cy="725" r="2.57"/><circle cx="712" cy="765" r="2.57"/><circle cx="752" cy="716" r="2.57"/><circle cx="858" cy="791" r="2.57"/>
</g>
</svg>
</body>
</html>
